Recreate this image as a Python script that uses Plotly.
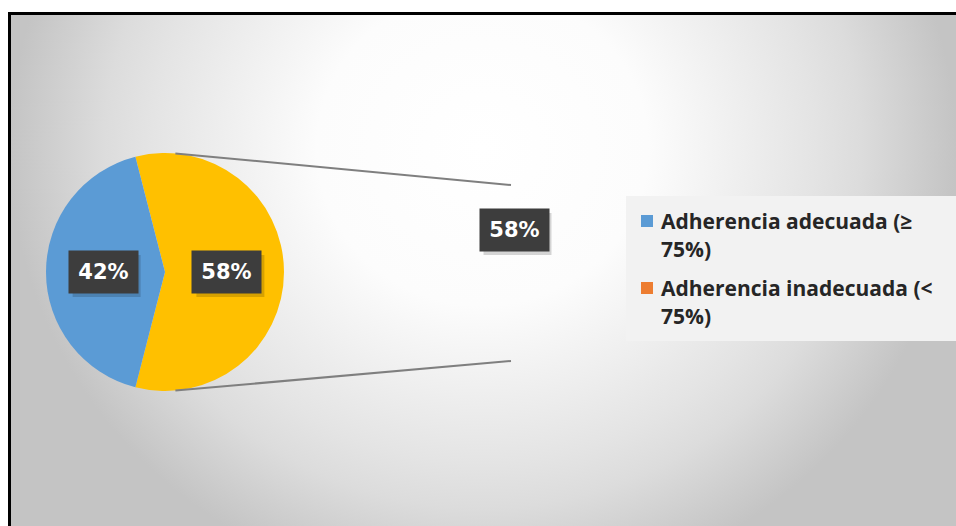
import base64
import math
import plotly.graph_objects as go

# ---------------------------------------
# Data (pie of pie: main pie + secondary pie)
# ---------------------------------------
main_labels = ["Otros", "Adherencia adecuada (≥ 75%)"]
main_values = [58, 42]
main_colors = ["#FFC000", "#5B9BD5"]

second_labels = ["Adherencia inadecuada (< 75%)"]
second_values = [58]

legend_lines = [["Adherencia adecuada (≥", "75%)"],
                ["Adherencia inadecuada (<", "75%)"]]
legend_colors = ["#5B9BD5", "#ED7D31"]

W, H = 956, 526

# geometry in pixels
main_cx, main_cy, main_r = 165, 272, 119
sec_cx, sec_cy, sec_r = 511, 273, 88


def px(x):
    return x / W


def py(y):
    return 1 - y / H


total = sum(main_values)
# first (grouped) slice centred on 3 o'clock
rotation = 90 - 180 * main_values[0] / total

fig = go.Figure()

fig.add_trace(go.Pie(
    labels=main_labels,
    values=main_values,
    marker=dict(colors=main_colors, line=dict(width=0)),
    sort=False,
    direction="clockwise",
    rotation=rotation,
    textinfo="none",
    showlegend=False,
    domain=dict(x=[px(main_cx - main_r), px(main_cx + main_r)],
                y=[py(main_cy + main_r), py(main_cy - main_r)]),
))

# secondary pie has no visible fill in the original
fig.add_trace(go.Pie(
    labels=second_labels,
    values=second_values,
    marker=dict(colors=["rgba(0,0,0,0)"], line=dict(width=0)),
    textinfo="none",
    showlegend=False,
    hoverinfo="skip",
    domain=dict(x=[px(sec_cx - sec_r), px(sec_cx + sec_r)],
                y=[py(sec_cy + sec_r), py(sec_cy - sec_r)]),
))

# ---------------------------------------
# Data labels (dark boxes)
# ---------------------------------------
label_font = dict(family="DejaVu Sans", size=21, color="white", weight="bold")
annotations = []
shapes = []
BW, BH = 67, 40


def add_label(x, y, text):
    # soft shadow
    shapes.append(dict(type="rect", xref="paper", yref="paper",
                       x0=px(x - BW / 2 + 3), x1=px(x + BW / 2 + 4),
                       y0=py(y + BH / 2 + 5), y1=py(y - BH / 2 + 3),
                       fillcolor="rgba(0,0,0,0.16)", line=dict(width=0)))
    annotations.append(dict(
        x=px(x), y=py(y), xref="paper", yref="paper",
        xanchor="center", yanchor="middle",
        text=text, showarrow=False, width=BW, height=BH,
        bgcolor="#3D3D3D", font=label_font,
    ))


cum = 0
for v in main_values:
    mid = math.radians(rotation + (cum + v / 2) / total * 360)
    cum += v
    lx = main_cx + 0.52 * main_r * math.sin(mid)
    ly = main_cy - 0.52 * main_r * math.cos(mid)
    add_label(lx, ly, f"{round(100 * v / total)}%")

add_label(sec_cx + 3, sec_cy - 0.49 * sec_r, f"{round(100 * second_values[0] / total)}%")

# ---------------------------------------
# Connector lines
# ---------------------------------------
for sgn in (-1, 1):
    a = math.radians(5)
    x0 = main_cx + main_r * math.sin(a)
    y0 = main_cy + sgn * main_r * math.cos(a)
    shapes.append(dict(type="line", xref="paper", yref="paper",
                       x0=px(x0), y0=py(y0), x1=px(sec_cx), y1=py(sec_cy + sgn * sec_r),
                       line=dict(color="#7F7F7F", width=2)))

# ---------------------------------------
# Legend (manual, wrapped text)
# ---------------------------------------
shapes.append(dict(type="rect", xref="paper", yref="paper",
                   x0=px(626), x1=px(958), y0=py(341), y1=py(196),
                   fillcolor="#F2F2F2", line=dict(width=0), layer="below"))

entry_y = [221, 288]
line_gap = 28
for i, lines in enumerate(legend_lines):
    y = entry_y[i]
    shapes.append(dict(type="rect", xref="paper", yref="paper",
                       x0=px(641), x1=px(653), y0=py(y + 6), y1=py(y - 6),
                       fillcolor=legend_colors[i], line=dict(width=0)))
    for j, t in enumerate(lines):
        annotations.append(dict(
            x=px(659), y=py(y + j * line_gap), xref="paper", yref="paper",
            xanchor="left", yanchor="middle", text=t, showarrow=False,
            font=dict(family="Open Sans", size=21, color="#262626", weight="bold"),
        ))

# chart frame (only top/left edges are inside the picture)
shapes.append(dict(type="rect", xref="paper", yref="paper",
                   x0=px(9.5), x1=1.1, y0=-0.1, y1=py(13.5),
                   line=dict(color="black", width=3)))

# ---------------------------------------
# Gradient background (radial, light centre near top)
# ---------------------------------------
svg = (
    '<svg xmlns="http://www.w3.org/2000/svg" width="947" height="900" '
    'viewBox="0 0 947 900" preserveAspectRatio="none">'
    '<defs><radialGradient id="g" cx="0.5" cy="0.15" r="0.5">'
    '<stop offset="0" stop-color="#ffffff"/>'
    '<stop offset="0.35" stop-color="#fcfcfc"/>'
    '<stop offset="0.7" stop-color="#e4e4e4"/>'
    '<stop offset="0.8" stop-color="#dcdcdc"/>'
    '<stop offset="1" stop-color="#c4c4c4"/>'
    '</radialGradient></defs>'
    '<rect width="947" height="900" fill="url(#g)"/></svg>'
)
bg_src = "data:image/svg+xml;base64," + base64.b64encode(svg.encode()).decode()

fig.update_layout(
    width=W, height=H,
    margin=dict(l=0, r=0, t=0, b=0),
    paper_bgcolor="white",
    plot_bgcolor="white",
    shapes=shapes,
    annotations=annotations,
    images=[dict(source=bg_src, xref="paper", yref="paper",
                 x=px(9), y=py(13), sizex=947 / W, sizey=900 / H,
                 xanchor="left", yanchor="top", sizing="stretch", layer="below")],
)

# remove the default page margin so the figure sits at the window's corner
fig.write_html("out.html", config={"displayModeBar": False},
               post_script="document.body.style.margin='0';")
